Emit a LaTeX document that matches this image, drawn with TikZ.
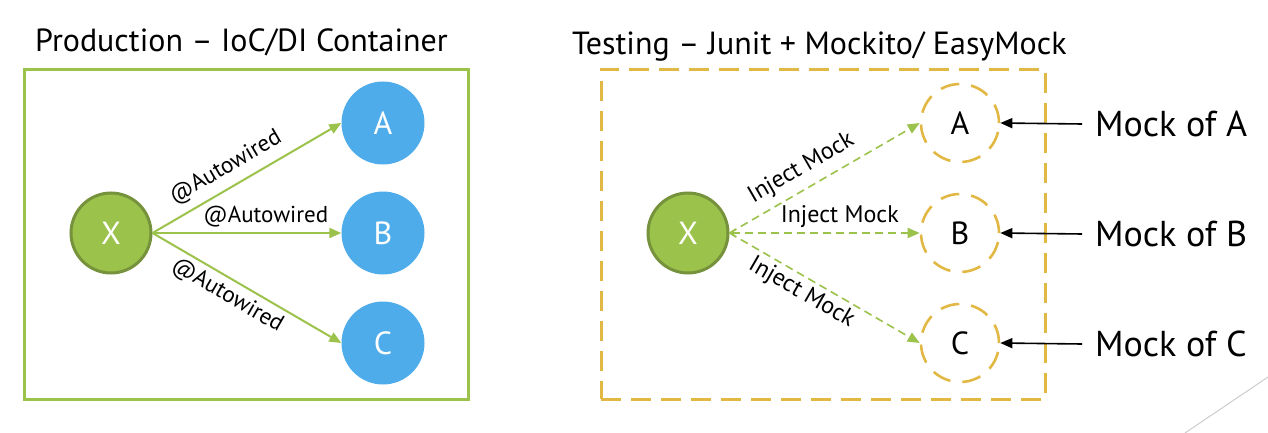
\documentclass[tikz,border=0pt]{standalone}
\usepackage{fontspec}
\setmainfont{PT Sans}
\usetikzlibrary{arrows.meta}
\definecolor{lgreen}{HTML}{9BC24A}
\definecolor{dgreen}{HTML}{76923C}
\definecolor{cblue}{HTML}{4FACEA}
\definecolor{gold}{HTML}{E2B845}
\tikzset{
  title/.style={font=\fontsize{32}{36}\selectfont, anchor=base west, inner sep=0},
  xnode/.style={circle, fill=lgreen, draw=dgreen, line width=3pt, minimum size=80pt, inner sep=0, text=white, font=\fontsize{32}{36}\selectfont},
  bnode/.style={circle, fill=cblue, minimum size=83pt, inner sep=0, text=white, font=\fontsize{32}{36}\selectfont},
  mnode/.style={circle, draw=gold, line width=2.6pt, dash pattern=on 19pt off 12pt, minimum size=78pt, inner sep=0, text=black, font=\fontsize{32}{36}\selectfont},
  garrow/.style={draw=lgreen, line width=2pt, -{Triangle[length=12pt,width=10pt]}},
  darrow/.style={draw=lgreen, line width=1.6pt, dash pattern=on 8pt off 5pt, -{Triangle[length=12pt,width=10pt]}},
  lab/.style={font=\fontsize{23}{26}\selectfont, inner sep=0pt, sloped},
  ilab/.style={font=\fontsize{24}{27}\selectfont, inner sep=0pt, sloped},
  karrow/.style={draw=black, line width=1.6pt, -{Triangle[length=12pt,width=10pt]}},
  mock/.style={font=\fontsize{36}{40}\selectfont, anchor=west, inner sep=0},
}
\begin{document}
\begin{tikzpicture}[x=1pt,y=-1pt]
\useasboundingbox (0,0) rectangle (1268,433);
% left panel
\node[title] (t1) at (35,52) {Production – IoC/DI Container};
\node[draw=lgreen, line width=2.6pt, minimum width=444pt, minimum height=330pt, anchor=north west, inner sep=0] (box1) at (23,68) {};
\node[xnode] (x1) at (111,233) {X};
\node[bnode] (a1) at (383,123) {A};
\node[bnode] (b1) at (383,233) {B};
\node[bnode] (c1) at (383,343) {C};
\draw[garrow] (x1.east) -- (a1.west) node[lab, pos=0.44, above=8pt] {@Autowired};
\draw[garrow] (x1.east) -- (b1.west) node[lab, pos=0.6, above=5pt] {@Autowired};
\draw[garrow] (x1.east) -- (c1.west) node[lab, pos=0.44, below=5pt] {@Autowired};
% right panel
\node[title] (t2) at (572,55) {Testing – Junit + Mockito/ EasyMock};
\node[draw=gold, line width=2.6pt, dash pattern=on 20pt off 10pt, minimum width=444pt, minimum height=330pt, anchor=north west, inner sep=0] (box2) at (600,68) {};
\node[xnode] (x2) at (688,233) {X};
\node[mnode] (a2) at (960,123) {A};
\node[mnode] (b2) at (960,233) {B};
\node[mnode] (c2) at (960,343) {C};
\draw[darrow] (x2.east) -- (a2.west) node[ilab, pos=0.43, above=8pt] {Inject Mock};
\draw[darrow, {Straight Barb[length=5pt,width=8pt]}-{Triangle[length=12pt,width=10pt]}] (x2.east) -- (b2.west) node[ilab, pos=0.58, above=5pt] {Inject Mock};
\draw[darrow] (x2.east) -- (c2.west) node[ilab, pos=0.42, below=4pt] {Inject Mock};
\node[mock] (ma) at (1095,124) {Mock of A};
\node[mock] (mb) at (1095,234) {Mock of B};
\node[mock] (mc) at (1095,344) {Mock of C};
\draw[karrow] (ma.west -| 1082,0) -- (a2.east);
\draw[karrow] (mb.west -| 1082,0) -- (b2.east);
\draw[karrow] (mc.west -| 1082,0) -- (c2.east);
% decoration
\coordinate (d1) at (1268,377);
\coordinate (d2) at (1185,433);
\draw[gray!40, line width=1pt] (d1) -- (d2);
\end{tikzpicture}
\end{document}
